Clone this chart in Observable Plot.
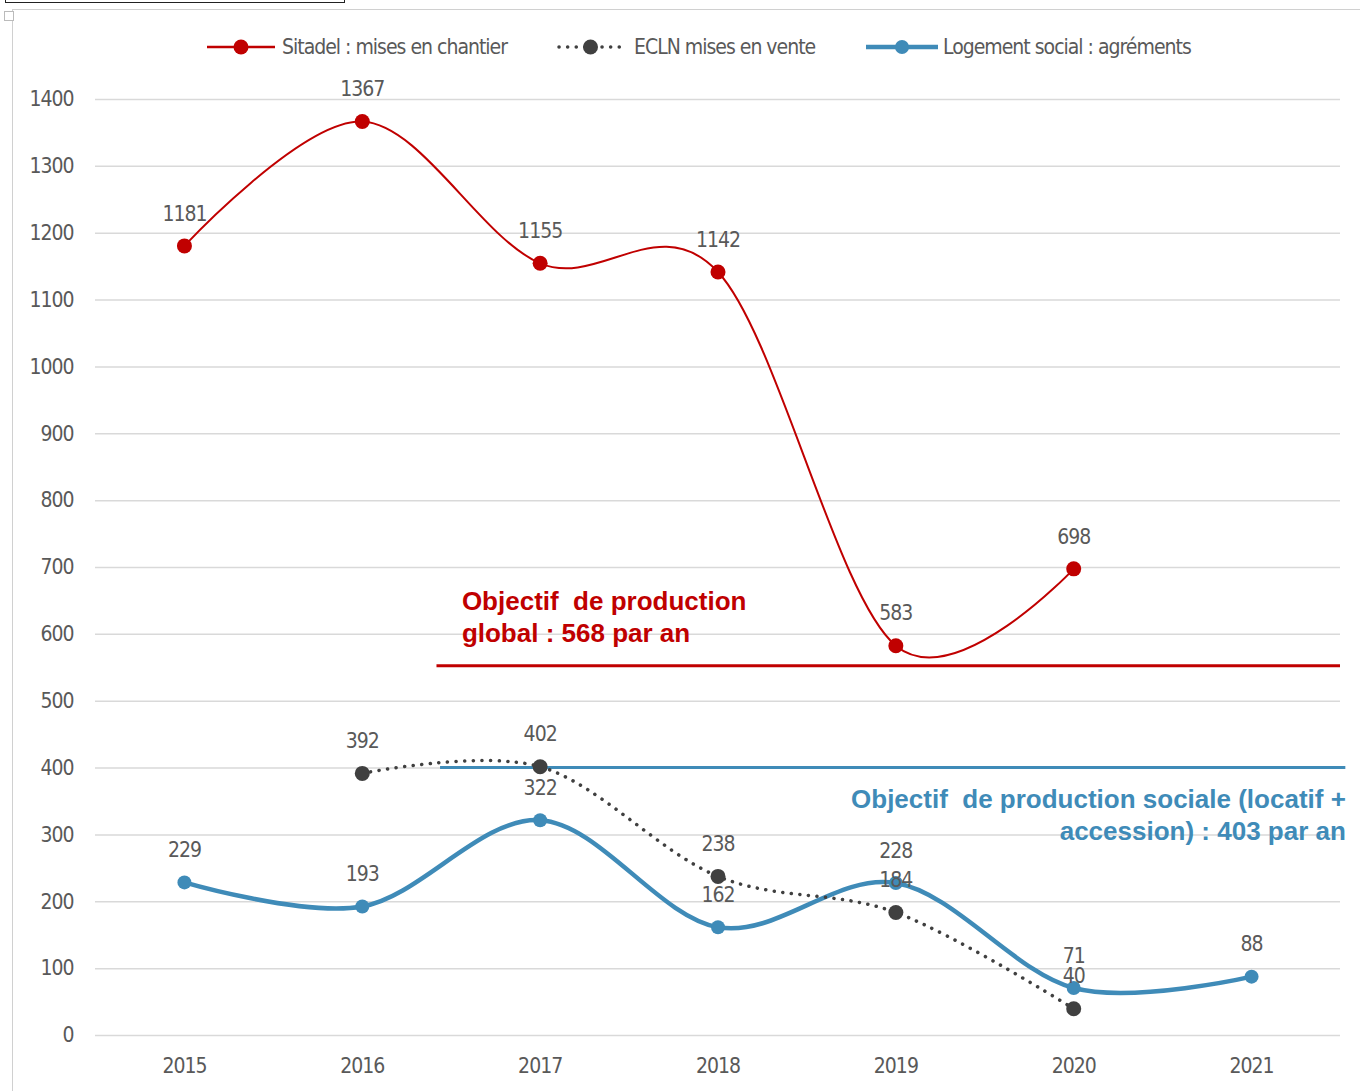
<!DOCTYPE html>
<html><head><meta charset="utf-8">
<script src="https://cdn.jsdelivr.net/npm/d3@7"></script>
<script src="https://cdn.jsdelivr.net/npm/@observablehq/plot@0.6"></script>
<style>
body{margin:0;background:#fff;width:1360px;height:1091px;position:relative;overflow:hidden;font-family:"DejaVu Sans Condensed",sans-serif;}
#chart{position:absolute;left:0;top:0;}
#chart svg text{white-space:pre;}
.narrow{letter-spacing:-1px;}
#legend{position:absolute;left:0;top:27px;}
.deco1{position:absolute;left:5px;top:-4px;width:338px;height:6px;border:1.5px solid #222;border-top:none;}
.deco2{position:absolute;left:12px;top:9px;width:1360px;height:1100px;border-left:1.5px solid #d0d0d0;border-top:1.5px solid #d0d0d0;}
.deco3{position:absolute;left:4px;top:11px;width:8px;height:8px;border:1px solid #bbb;background:#fff;}
</style></head>
<body>
<div class="deco2"></div>
<div class="deco1"></div>
<div class="deco3"></div>
<div id="chart"></div>
<svg id="legend" width="1360" height="40"></svg>
<script>
const years = [2015, 2016, 2017, 2018, 2019, 2020, 2021];
const sitadelYears = [2015, 2016, 2017, 2018, 2019, 2020];
const sitadelValues = [1181, 1367, 1155, 1142, 583, 698];
const eclnYears = [2016, 2017, 2018, 2019, 2020];
const eclnValues = [392, 402, 238, 184, 40];
const socialYears = [2015, 2016, 2017, 2018, 2019, 2020, 2021];
const socialValues = [229, 193, 322, 162, 228, 71, 88];
const yTicks = [0, 100, 200, 300, 400, 500, 600, 700, 800, 900, 1000, 1100, 1200, 1300, 1400];
const seriesNames = ["Sitadel : mises en chantier", "ECLN mises en vente", "Logement social : agréments"];
const objectiveNames = ["global", "social"];
const objectiveLevels = [553, 401];
const objectiveFrom = [2016.42, 2016.44];
const objectiveTo = [2021.5, 2021.53];
const objectiveTexts = ["Objectif  de production\nglobal : 568 par an", "Objectif  de production sociale (locatif +\naccession) : 403 par an"];

const RED = "#C00000", GRAY = "#404040", BLUE = "#3F8BB8", TXT = "#595959";
const sitadel = sitadelYears.map((y, i) => ({year: y, value: sitadelValues[i]}));
const ecln = eclnYears.map((y, i) => ({year: y, value: eclnValues[i]}));
const social = socialYears.map((y, i) => ({year: y, value: socialValues[i]}));
const objectives = objectiveNames.map((n, i) => ({name: n, level: objectiveLevels[i], from: objectiveFrom[i], to: objectiveTo[i], text: objectiveTexts[i]}));
const FONT = '"DejaVu Sans Condensed",sans-serif';
const BOLD = '"Liberation Sans",Arial,sans-serif';

const chart = Plot.plot({
  width: 1360, height: 1091,
  marginLeft: 95, marginRight: 20, marginTop: 99, marginBottom: 56,
  style: {fontFamily: FONT, color: TXT, background: "transparent"},
  x: {type: "linear", domain: [2014.5, 2021.5]},
  y: {domain: [0, 1400]},
  marks: [
    Plot.ruleY(yTicks, {stroke: "#d9d9d9", strokeWidth: 1.5}),
    Plot.axisY({ticks: yTicks, tickFormat: d => String(d), tickSize: 0, tickPadding: 22, fontSize: 21, fill: TXT, label: null, className: "narrow"}),
    Plot.axisX({ticks: years, tickFormat: d => String(d), tickSize: 0, tickPadding: 23, fontSize: 21, fill: TXT, label: null, className: "narrow"}),
    Plot.ruleY([objectives[0]], {y: "level", x1: "from", x2: "to", stroke: RED, strokeWidth: 3}),
    Plot.ruleY([objectives[1]], {y: "level", x1: "from", x2: "to", stroke: BLUE, strokeWidth: 3}),
    Plot.line(social, {x: "year", y: "value", stroke: BLUE, strokeWidth: 4.5, curve: "cardinal"}),
    Plot.line(ecln, {x: "year", y: "value", stroke: GRAY, strokeWidth: 3.5, strokeDasharray: "0.1 8.5", strokeLinecap: "round", curve: "cardinal"}),
    Plot.line(sitadel, {x: "year", y: "value", stroke: RED, strokeWidth: 2, curve: "cardinal"}),
    Plot.dot(social, {x: "year", y: "value", r: 7, fill: BLUE}),
    Plot.dot(ecln, {x: "year", y: "value", r: 7.5, fill: GRAY}),
    Plot.dot(sitadel, {x: "year", y: "value", r: 7.5, fill: RED}),
    Plot.text(sitadel, {x: "year", y: "value", text: d => String(d.value), dy: -32, fontSize: 21, fill: TXT, className: "narrow"}),
    Plot.text(ecln, {x: "year", y: "value", text: d => String(d.value), dy: -32, fontSize: 21, fill: TXT, className: "narrow"}),
    Plot.text(social, {x: "year", y: "value", text: d => String(d.value), dy: -32, fontSize: 21, fill: TXT, className: "narrow"}),
    Plot.text([objectives[0]], {x: 2016.56, y: 628, text: "text", textAnchor: "start", lineAnchor: "middle", lineHeight: 1.23, fontSize: 26, fontWeight: "bold", fill: RED, fontFamily: BOLD}),
    Plot.text([objectives[1]], {x: 2021.53, y: 332, text: "text", textAnchor: "end", lineAnchor: "middle", lineHeight: 1.23, fontSize: 26, fontWeight: "bold", fill: BLUE, fontFamily: BOLD})
  ]
});
document.getElementById("chart").appendChild(chart);

// legend
const lg = d3.select("#legend");
const cy = 20;
const items = [
  {name: seriesNames[0], x0: 207, x1: 275, color: RED, w: 2.5, dash: null, r: 7.5, tx: 282},
  {name: seriesNames[1], x0: 559, x1: 622, color: GRAY, w: 3.5, dash: "0.1 8.5", r: 7.5, tx: 634},
  {name: seriesNames[2], x0: 866, x1: 938, color: BLUE, w: 4.5, dash: null, r: 7, tx: 943}
];
for (const it of items) {
  const l = lg.append("line").attr("x1", it.x0).attr("x2", it.x1).attr("y1", cy).attr("y2", cy)
    .attr("stroke", it.color).attr("stroke-width", it.w);
  if (it.dash) l.attr("stroke-dasharray", it.dash).attr("stroke-linecap", "round");
  lg.append("circle").attr("cx", (it.x0 + it.x1) / 2).attr("cy", cy).attr("r", it.r).attr("fill", it.color);
  lg.append("text").attr("x", it.tx).attr("y", cy).attr("dy", "0.35em").attr("fill", TXT)
    .attr("font-size", 21).attr("font-family", FONT).attr("class", "narrow").text(it.name);
}
</script>
</body></html>
